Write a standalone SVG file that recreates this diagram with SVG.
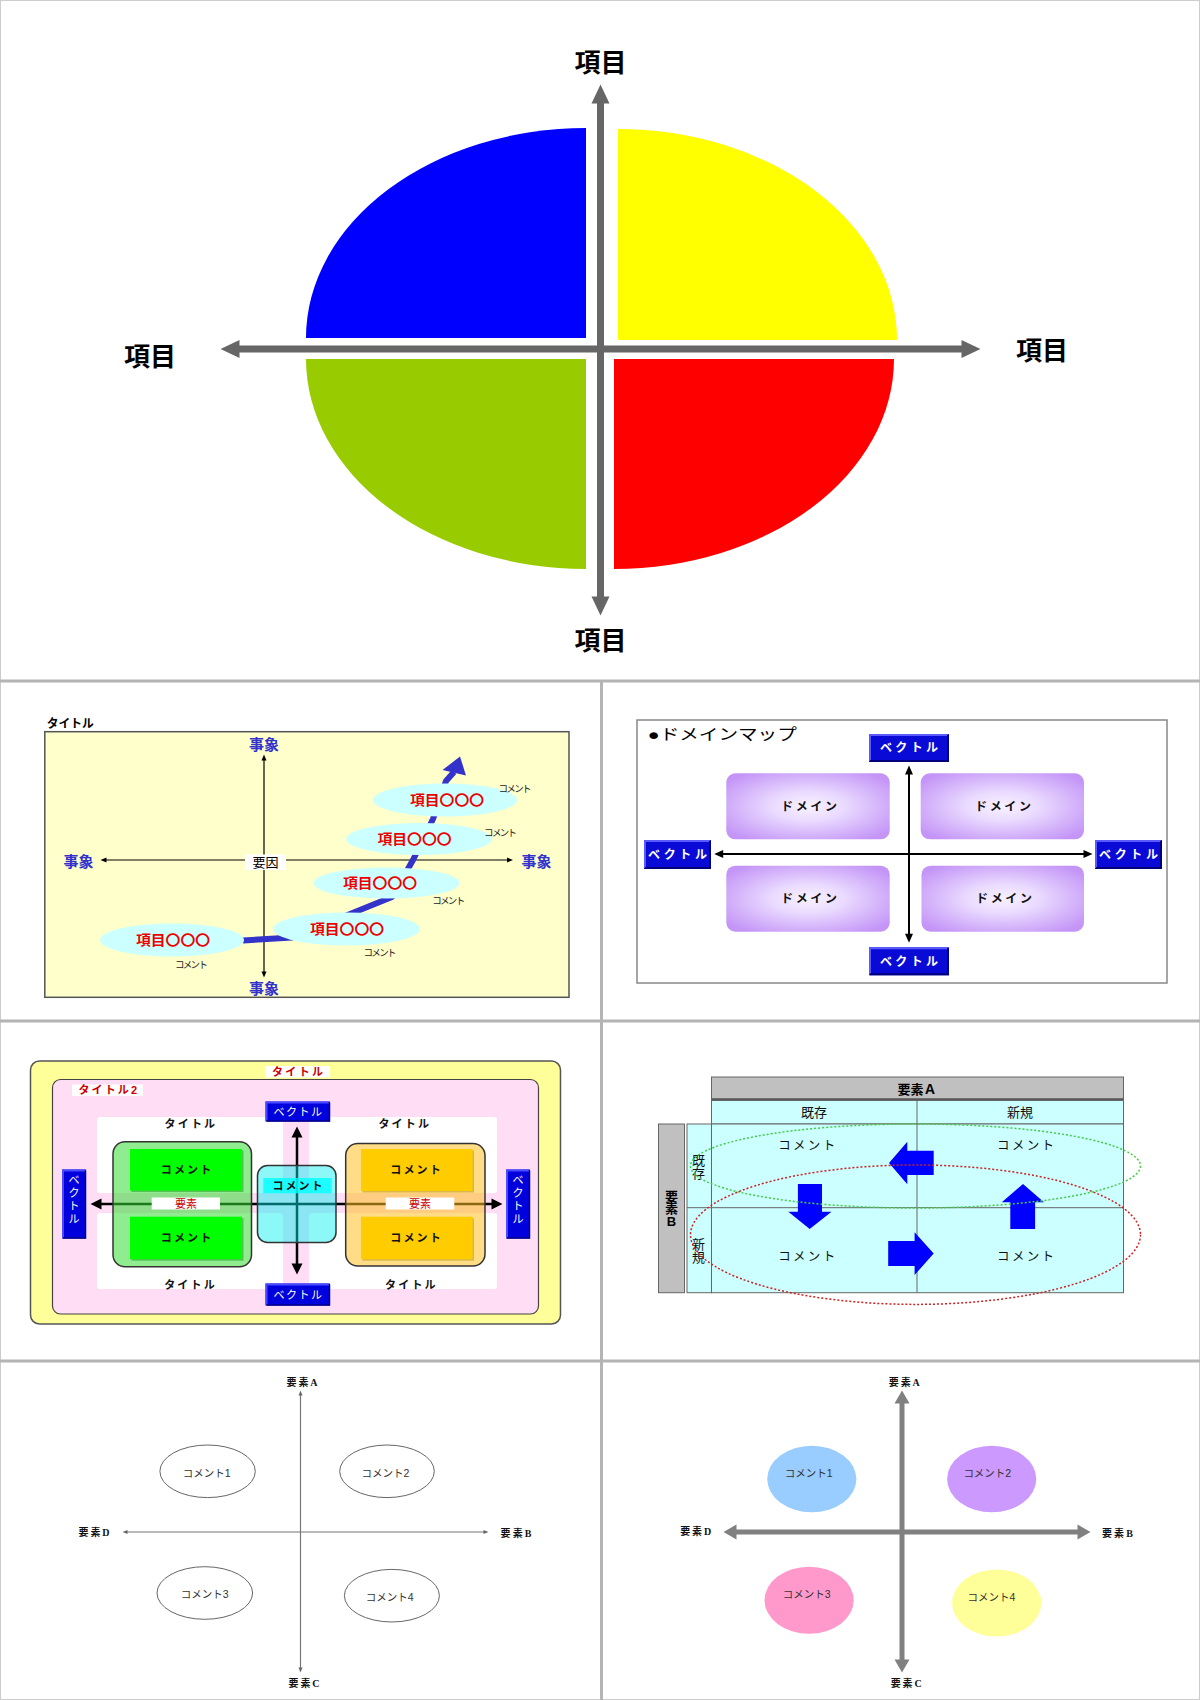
<svg xmlns="http://www.w3.org/2000/svg" width="1200" height="1700" viewBox="0 0 1200 1700">
<defs>
<style>
text{font-family:"Liberation Sans","Noto Sans CJK JP",sans-serif}
.jp{font-family:"Noto Sans CJK JP","Liberation Sans",sans-serif}
.sf{font-family:"Liberation Serif","Noto Sans CJK JP",serif;font-weight:bold;font-size:10px;fill:#111;text-anchor:middle}
.c{text-anchor:middle}
.b{font-weight:bold}
.div{stroke:#B4B4B4;stroke-width:3}
.big{font-size:26px;font-weight:bold;fill:#000;text-anchor:middle}
.jis{font-size:15px;font-weight:bold;fill:#3333CC;text-anchor:middle}
.kou{font-size:14px;font-weight:bold;fill:#EE0000;text-anchor:middle}
.cm9{font-size:9.5px;fill:#222;text-anchor:middle}
.e2{fill:#CCFFFF}
.dom{fill:url(#domg)}
.domt{font-size:12px;font-weight:bold;fill:#111;text-anchor:middle}
.vect{font-size:12px;font-weight:bold;fill:#fff;text-anchor:middle}
.v4t{font-size:11px;fill:#fff;text-anchor:middle}
.t4{font-size:11px;font-weight:bold;fill:#111;text-anchor:middle}
.r4{font-size:11px;font-weight:bold;fill:#CC0000}
.cell{fill:#CCFFFF;stroke:#666;stroke-width:1}
.gray{fill:#C0C0C0;stroke:#666;stroke-width:1}
.t5{font-size:13px;fill:#111;text-anchor:middle}
.cm5{font-size:12.5px;fill:#111;text-anchor:middle}
.barr{fill:#0000FF}
.cm6{font-size:10.5px;fill:#333;text-anchor:middle}
</style>
<radialGradient id="domg" cx="50%" cy="50%" r="62%">
<stop offset="0" stop-color="#F8F2FF"/>
<stop offset="0.35" stop-color="#EADBFF"/>
<stop offset="1" stop-color="#C495F7"/>
</radialGradient>
<marker id="m1" markerUnits="userSpaceOnUse" markerWidth="19" markerHeight="18" refX="0.5" refY="9" orient="auto-start-reverse" overflow="visible"><path d="M0,0 L19,9 L0,18 z" fill="#666"/></marker>
<marker id="m2" markerUnits="userSpaceOnUse" markerWidth="6" markerHeight="5" refX="0.5" refY="2.5" orient="auto-start-reverse" overflow="visible"><path d="M0,0 L6,2.5 L0,5 z" fill="#000"/></marker>
<marker id="m3" markerUnits="userSpaceOnUse" markerWidth="9" markerHeight="8" refX="0.5" refY="4" orient="auto-start-reverse" overflow="visible"><path d="M0,0 L9,4 L0,8 z" fill="#000"/></marker>
<marker id="m4" markerUnits="userSpaceOnUse" markerWidth="11" markerHeight="11" refX="0.5" refY="5.5" orient="auto-start-reverse" overflow="visible"><path d="M0,0 L11,5.5 L0,11 z" fill="#000"/></marker>
<marker id="m6" markerUnits="userSpaceOnUse" markerWidth="5" markerHeight="4" refX="0.5" refY="2" orient="auto-start-reverse" overflow="visible"><path d="M0,0 L5,2 L0,4 z" fill="#666"/></marker>
<marker id="m7" markerUnits="userSpaceOnUse" markerWidth="13" markerHeight="15" refX="0.5" refY="7.5" orient="auto-start-reverse" overflow="visible"><path d="M0,0 L13,7.5 L0,15 z" fill="#808080"/></marker>
</defs>

<rect x="0" y="0" width="1200" height="1700" fill="#fff"/>
<rect x="0.5" y="0.5" width="1199" height="1699" fill="none" stroke="#CCCCCC" stroke-width="1"/>

<!-- panel dividers -->
<g id="dividers">
<line class="div" x1="0" y1="681" x2="1200" y2="681"/>
<line class="div" x1="0" y1="1021" x2="1200" y2="1021"/>
<line class="div" x1="0" y1="1361" x2="1200" y2="1361"/>
<line class="div" x1="601.5" y1="682" x2="601.5" y2="1700"/>
</g>

<!-- ===== Panel 1 ===== -->
<g id="p1-q-blue"><path d="M586,338 L586,128 A280,210 0 0 0 306,338 Z" fill="#0000FF"/></g>
<g id="p1-q-yellow"><path d="M618,340 L618,129 A279,211 0 0 1 897,340 Z" fill="#FFFF00"/></g>
<g id="p1-q-green"><path d="M586,359 L306,359 A280,210 0 0 0 586,569 Z" fill="#99CC00"/></g>
<g id="p1-q-red"><path d="M614,359 L894,359 A280,210 0 0 1 614,569 Z" fill="#FF0000"/></g>
<g id="p1-connectors">
<line x1="600.5" y1="103" x2="600.5" y2="597" stroke="#666" stroke-width="7" marker-start="url(#m1)" marker-end="url(#m1)"/>
<line x1="239" y1="349" x2="962" y2="349" stroke="#666" stroke-width="7" marker-start="url(#m1)" marker-end="url(#m1)"/>
</g>
<g id="p1-labels">
<text class="big" x="600.5" y="71.5">項目</text>
<text class="big" x="600.5" y="650">項目</text>
<text class="big" x="150" y="365.5">項目</text>
<text class="big" x="1042" y="359.5">項目</text>
</g>

<!-- ===== Panel 2 ===== -->
<g id="p2-title"><text x="46.7" y="728" font-size="12" font-weight="bold" textLength="47" lengthAdjust="spacingAndGlyphs">タイトル</text></g>
<g id="p2-frame"><rect x="44.8" y="731.7" width="524.2" height="265.6" fill="#FFFFCC" stroke="#555" stroke-width="1.5"/></g>
<g id="p2-connectors">
<line x1="264" y1="760" x2="264" y2="972" stroke="#000" stroke-width="1.2" marker-start="url(#m2)" marker-end="url(#m2)"/>
<line x1="106" y1="860" x2="507.5" y2="860" stroke="#000" stroke-width="1.2" marker-start="url(#m2)" marker-end="url(#m2)"/>
<polyline points="243,940.5 292,937.5 392,897 413,860 433,819 446,781 454,772" fill="none" stroke="#3333CC" stroke-width="6" stroke-linejoin="round"/>
<polygon points="460,756.5 442.5,770 466,775.5" fill="#3333CC"/>
</g>
<g id="p2-center"><rect x="245" y="854.5" width="41" height="15.5" fill="#fff"/><text x="265.6" y="867" font-size="13" class="c">要因</text></g>
<g id="p2-axis-labels">
<text class="jis" x="264" y="749.5">事象</text>
<text class="jis" x="264" y="993.5">事象</text>
<text class="jis" x="78.5" y="867">事象</text>
<text class="jis" x="536.5" y="866.5">事象</text>
</g>
<g id="p2-item1"><ellipse class="e2" cx="445" cy="800" rx="72" ry="16.5"/><text class="kou jp" x="447" y="804.8" textLength="74" lengthAdjust="spacingAndGlyphs">項目〇〇〇</text><text class="cm9" x="515" y="791.8" textLength="33">コメント</text></g>
<g id="p2-item2"><ellipse class="e2" cx="419" cy="839" rx="73" ry="16"/><text class="kou jp" x="414.5" y="843.5" textLength="74" lengthAdjust="spacingAndGlyphs">項目〇〇〇</text><text class="cm9" x="500.6" y="836" textLength="33">コメント</text></g>
<g id="p2-item3"><ellipse class="e2" cx="386.5" cy="883" rx="73" ry="15.5"/><text class="kou jp" x="380" y="887.5" textLength="74" lengthAdjust="spacingAndGlyphs">項目〇〇〇</text><text class="cm9" x="448.7" y="903.8" textLength="33">コメント</text></g>
<g id="p2-item4"><ellipse class="e2" cx="346.5" cy="929" rx="73.5" ry="16.5"/><text class="kou jp" x="347" y="933.5" textLength="74" lengthAdjust="spacingAndGlyphs">項目〇〇〇</text><text class="cm9" x="380" y="956" textLength="33">コメント</text></g>
<g id="p2-item5"><ellipse class="e2" cx="172" cy="940" rx="72" ry="16.5"/><text class="kou jp" x="173" y="945" textLength="74" lengthAdjust="spacingAndGlyphs">項目〇〇〇</text><text class="cm9" x="191.4" y="967.5" textLength="33">コメント</text></g>

<!-- ===== Panel 3 ===== -->
<g id="p3-frame">
<rect x="637" y="720" width="530" height="263" fill="#fff" stroke="#888" stroke-width="1.5"/>
<text x="647.8" y="740" font-size="15.5" textLength="149" lengthAdjust="spacingAndGlyphs">●ドメインマップ</text>
</g>
<g id="p3-dom-tl"><rect class="dom" x="726.3" y="773.3" width="163.4" height="66" rx="9"/><text class="domt" x="809" y="810.5" textLength="56">ドメイン</text></g>
<g id="p3-dom-tr"><rect class="dom" x="920.7" y="773.3" width="163.3" height="66" rx="9"/><text class="domt" x="1003" y="810.5" textLength="56">ドメイン</text></g>
<g id="p3-dom-bl"><rect class="dom" x="726.3" y="865.7" width="163.4" height="66" rx="9"/><text class="domt" x="809" y="902.5" textLength="56">ドメイン</text></g>
<g id="p3-dom-br"><rect class="dom" x="921.5" y="865.7" width="162.5" height="66" rx="9"/><text class="domt" x="1004" y="902.5" textLength="56">ドメイン</text></g>
<g id="p3-connectors">
<line x1="909" y1="774" x2="909" y2="934.3" stroke="#000" stroke-width="2" marker-start="url(#m3)" marker-end="url(#m3)"/>
<line x1="722.7" y1="854" x2="1084" y2="854" stroke="#000" stroke-width="2" marker-start="url(#m3)" marker-end="url(#m3)"/>
</g>
<g id="p3-vec-top">
<rect x="869" y="734" width="80" height="28" fill="#0A0AD6"/>
<path d="M870,761 V735 H948" stroke="#5A5AFF" stroke-width="2" fill="none"/>
<path d="M870,761 H948 V735" stroke="#00007A" stroke-width="2" fill="none"/>
<text class="vect" x="909" y="752.3" textLength="58">ベクトル</text>
</g>
<g id="p3-vec-bottom">
<rect x="869" y="947.3" width="80" height="28" fill="#0A0AD6"/>
<path d="M870,974.3 V948.3 H948" stroke="#5A5AFF" stroke-width="2" fill="none"/>
<path d="M870,974.3 H948 V948.3" stroke="#00007A" stroke-width="2" fill="none"/>
<text class="vect" x="909" y="965.6" textLength="58">ベクトル</text>
</g>
<g id="p3-vec-left">
<rect x="644" y="840" width="67" height="29" fill="#0A0AD6"/>
<path d="M645,868 V841 H710" stroke="#5A5AFF" stroke-width="2" fill="none"/>
<path d="M645,868 H710 V841" stroke="#00007A" stroke-width="2" fill="none"/>
<text class="vect" x="677.5" y="859" textLength="59">ベクトル</text>
</g>
<g id="p3-vec-right">
<rect x="1095" y="840" width="67" height="29" fill="#0A0AD6"/>
<path d="M1096,868 V841 H1161" stroke="#5A5AFF" stroke-width="2" fill="none"/>
<path d="M1096,868 H1161 V841" stroke="#00007A" stroke-width="2" fill="none"/>
<text class="vect" x="1128.5" y="859" textLength="59">ベクトル</text>
</g>

<!-- ===== Panel 4 ===== -->
<g id="p4-outer">
<rect x="30.5" y="1061" width="530" height="263" rx="9" fill="#FFFF99" stroke="#555" stroke-width="1.5"/>
<rect x="265" y="1066" width="65" height="11.5" fill="#fff"/>
<text class="r4 c" x="297.5" y="1076" textLength="51">タイトル</text>
</g>
<g id="p4-inner">
<rect x="52.5" y="1079.5" width="486" height="234.5" rx="8" fill="#FFDDF5" stroke="#444" stroke-width="1.2"/>
<rect x="72" y="1084.5" width="71" height="11.5" fill="#fff"/>
<text class="r4" x="78.5" y="1094" textLength="58.5">タイトル2</text>
</g>
<g id="p4-areas">
<rect x="97" y="1117" width="186" height="76" rx="3" fill="#fff"/>
<rect x="309" y="1117" width="188" height="76" rx="3" fill="#fff"/>
<rect x="97" y="1213" width="186" height="76" rx="3" fill="#fff"/>
<rect x="309" y="1213" width="188" height="76" rx="3" fill="#fff"/>
<text class="t4" x="189.8" y="1127.5" textLength="50.5">タイトル</text>
<text class="t4" x="403.7" y="1127.5" textLength="50.5">タイトル</text>
<text class="t4" x="189.4" y="1288.5" textLength="50.5">タイトル</text>
<text class="t4" x="410.3" y="1288.5" textLength="50.5">タイトル</text>
</g>
<g id="p4-connectors">
<line x1="101" y1="1204" x2="492" y2="1204" stroke="#000" stroke-width="2.5" marker-start="url(#m4)" marker-end="url(#m4)"/>
<line x1="297" y1="1137" x2="297" y2="1264" stroke="#000" stroke-width="2.5" marker-start="url(#m4)" marker-end="url(#m4)"/>
</g>
<g id="p4-green">
<rect x="113" y="1141.7" width="138.5" height="125" rx="12" fill="#33DD33" fill-opacity="0.55" stroke="#333" stroke-width="1.5"/>
<rect x="131.5" y="1150.5" width="112" height="41.5" fill="#1A9A1A" opacity="0.5"/>
<rect x="130" y="1149" width="112" height="41.5" fill="#00FF00"/>
<rect x="131.5" y="1218.2" width="112" height="42.5" fill="#1A9A1A" opacity="0.5"/>
<rect x="130" y="1216.7" width="112" height="42.5" fill="#00FF00"/>
<text class="t4" x="186" y="1174" textLength="50.5">コメント</text>
<text class="t4" x="186" y="1242" textLength="50.5">コメント</text>
</g>
<g id="p4-orange">
<rect x="345.7" y="1143.5" width="139.3" height="122.5" rx="12" fill="#FFC020" fill-opacity="0.55" stroke="#333" stroke-width="1.5"/>
<rect x="362.5" y="1150.5" width="111.5" height="42" fill="#B08A00" opacity="0.45"/>
<rect x="361" y="1149" width="111.5" height="42" fill="#FFCC00"/>
<rect x="362.5" y="1218.2" width="111.5" height="42.5" fill="#B08A00" opacity="0.45"/>
<rect x="361" y="1216.7" width="111.5" height="42.5" fill="#FFCC00"/>
<text class="t4" x="415.5" y="1174" textLength="50.5">コメント</text>
<text class="t4" x="415.5" y="1242" textLength="50.5">コメント</text>
</g>
<g id="p4-center">
<rect x="257.5" y="1165.5" width="78.5" height="77" rx="10" fill="#00F0F0" fill-opacity="0.45" stroke="#333" stroke-width="1.5"/>
<rect x="263.3" y="1178" width="68.4" height="15.3" fill="#00FFFF" fill-opacity="0.8"/>
<text class="t4" x="297.5" y="1189.5" textLength="50">コメント</text>
</g>
<g id="p4-elem">
<rect x="151.7" y="1197.5" width="68.3" height="12" fill="#fff"/>
<text x="186" y="1207.5" font-size="11" fill="#CC0000" class="c" textLength="22">要素</text>
<rect x="385.7" y="1197.5" width="68.6" height="12" fill="#fff"/>
<text x="420" y="1207.5" font-size="11" fill="#CC0000" class="c" textLength="22">要素</text>
</g>
<g id="p4-vec-top">
<rect x="265.5" y="1101.5" width="64.5" height="20" fill="#0000DD"/>
<path d="M266.5,1121 V1102.5 H329" stroke="#4A4AFF" stroke-width="2" fill="none"/>
<path d="M266.5,1121 H329.5 V1102.5" stroke="#000088" stroke-width="1.5" fill="none"/>
<text class="v4t" x="297.7" y="1115.5" textLength="48.5">ベクトル</text>
</g>
<g id="p4-vec-bottom">
<rect x="265.5" y="1283.5" width="64.5" height="22" fill="#0000DD"/>
<path d="M266.5,1305 V1284.5 H329" stroke="#4A4AFF" stroke-width="2" fill="none"/>
<path d="M266.5,1305 H329.5 V1284.5" stroke="#000088" stroke-width="1.5" fill="none"/>
<text class="v4t" x="297.7" y="1298.5" textLength="48.5">ベクトル</text>
</g>
<g id="p4-vec-left">
<rect x="62" y="1169.5" width="24" height="69" fill="#0000DD"/>
<path d="M63,1238 V1170.5 H85.5" stroke="#4A4AFF" stroke-width="2" fill="none"/>
<path d="M63,1238 H85.5 V1170.5" stroke="#000088" stroke-width="1.5" fill="none"/>
<text class="v4t" x="74"><tspan x="74" y="1184">ベ</tspan><tspan x="74" y="1197">ク</tspan><tspan x="74" y="1210">ト</tspan><tspan x="74" y="1222.5">ル</tspan></text>
</g>
<g id="p4-vec-right">
<rect x="506" y="1169.5" width="24" height="69" fill="#0000DD"/>
<path d="M507,1238 V1170.5 H529.5" stroke="#4A4AFF" stroke-width="2" fill="none"/>
<path d="M507,1238 H529.5 V1170.5" stroke="#000088" stroke-width="1.5" fill="none"/>
<text class="v4t" x="518"><tspan x="518" y="1184">ベ</tspan><tspan x="518" y="1197">ク</tspan><tspan x="518" y="1210">ト</tspan><tspan x="518" y="1222.5">ル</tspan></text>
</g>

<!-- ===== Panel 5 ===== -->
<g id="p5-header">
<rect class="gray" x="711.5" y="1077" width="412" height="22.5"/>
<line x1="712" y1="1099" x2="1123" y2="1099" stroke="#555" stroke-width="1.5"/>
<text x="917" y="1094" font-size="13" font-weight="bold" class="c">要素Ａ</text>
</g>
<g id="p5-colheads">
<rect class="cell" x="711.5" y="1100.5" width="412" height="23.5"/>
<line x1="917" y1="1100.5" x2="917" y2="1124" stroke="#666"/>
<text class="t5" x="814" y="1117.3">既存</text>
<text class="t5" x="1020" y="1117.3">新規</text>
</g>
<g id="p5-rowhead">
<rect class="gray" x="658.5" y="1124" width="26" height="168.7"/>
<text x="671.5" font-size="13" font-weight="bold" class="c"><tspan x="671.5" y="1200.5">要</tspan><tspan x="671.5" y="1213">素</tspan><tspan x="671.5" y="1226">B</tspan></text>
<rect class="cell" x="687" y="1124" width="24.5" height="168.7"/>
<line x1="687" y1="1207.7" x2="711.5" y2="1207.7" stroke="#666"/>
<text class="t5"><tspan x="698.5" y="1164.5">既</tspan><tspan x="698.5" y="1177.5">存</tspan></text>
<text class="t5"><tspan x="698.5" y="1248.5">新</tspan><tspan x="698.5" y="1261.5">規</tspan></text>
</g>
<g id="p5-grid">
<rect class="cell" x="711.5" y="1124" width="412" height="168.7"/>
<line x1="917" y1="1124" x2="917" y2="1292.7" stroke="#666"/>
<line x1="711.5" y1="1207.7" x2="1123.5" y2="1207.7" stroke="#666"/>
<text class="cm5" x="806.7" y="1150" textLength="57">コメント</text>
<text class="cm5" x="1025.6" y="1150" textLength="57">コメント</text>
<text class="cm5" x="806.7" y="1260.5" textLength="57">コメント</text>
<text class="cm5" x="1025.6" y="1260.5" textLength="57">コメント</text>
</g>
<g id="p5-connectors">
<polygon class="barr" points="889,1163 907.3,1141.7 907.3,1150.7 933.7,1150.7 933.7,1175 907.3,1175 907.3,1184.3"/>
<polygon class="barr" points="797.9,1184 822,1184 822,1211.7 831.5,1211.7 809.7,1229 788.3,1211.7 797.9,1211.7"/>
<polygon class="barr" points="888.2,1241 914.6,1241 914.6,1232.3 933.7,1253.5 914.6,1275 914.6,1266 888.2,1266"/>
<polygon class="barr" points="1023,1184 1044,1202.3 1035.1,1202.3 1035.1,1229 1010.3,1229 1010.3,1202.3 1001.8,1202.3"/>
<ellipse cx="915.5" cy="1166" rx="225" ry="42" fill="none" stroke="#44CC44" stroke-width="1.5" stroke-dasharray="2 2"/>
<ellipse cx="915.5" cy="1234.7" rx="225" ry="69.7" fill="none" stroke="#CC2222" stroke-width="1.5" stroke-dasharray="2 2"/>
</g>

<!-- ===== Panel 6 ===== -->
<g id="p6-connectors">
<line x1="300.5" y1="1395" x2="300.5" y2="1668" stroke="#777" stroke-width="1.2" marker-start="url(#m6)" marker-end="url(#m6)"/>
<line x1="127" y1="1532" x2="484" y2="1532" stroke="#777" stroke-width="1.2" marker-start="url(#m6)" marker-end="url(#m6)"/>
</g>
<g id="p6-labels">
<text class="sf" x="302" y="1385.5" textLength="31">要素A</text>
<text class="sf" x="304" y="1687" textLength="31">要素C</text>
<text class="sf" x="94" y="1535.5" textLength="31">要素D</text>
<text class="sf" x="516" y="1536.5" textLength="31">要素B</text>
</g>
<g id="p6-c1"><ellipse cx="207.6" cy="1471.3" rx="47.7" ry="26.3" fill="#fff" stroke="#666"/><text class="cm6" x="206.7" y="1477">コメント1</text></g>
<g id="p6-c2"><ellipse cx="387" cy="1471.3" rx="47.3" ry="26.3" fill="#fff" stroke="#666"/><text class="cm6" x="385.4" y="1477">コメント2</text></g>
<g id="p6-c3"><ellipse cx="204.8" cy="1593" rx="47.8" ry="26.3" fill="#fff" stroke="#666"/><text class="cm6" x="204.7" y="1598">コメント3</text></g>
<g id="p6-c4"><ellipse cx="391.9" cy="1595.7" rx="47.5" ry="26.3" fill="#fff" stroke="#666"/><text class="cm6" x="389.6" y="1600.5">コメント4</text></g>

<!-- ===== Panel 7 ===== -->
<g id="p7-connectors">
<line x1="902" y1="1403" x2="902" y2="1660" stroke="#808080" stroke-width="5" marker-start="url(#m7)" marker-end="url(#m7)"/>
<line x1="736" y1="1532" x2="1078" y2="1532" stroke="#808080" stroke-width="5" marker-start="url(#m7)" marker-end="url(#m7)"/>
</g>
<g id="p7-labels">
<text class="sf" x="904.3" y="1385.5" textLength="31">要素A</text>
<text class="sf" x="906.2" y="1687" textLength="31">要素C</text>
<text class="sf" x="695.7" y="1535" textLength="31">要素D</text>
<text class="sf" x="1117.4" y="1536.5" textLength="31">要素B</text>
</g>
<g id="p7-c1"><ellipse cx="811.8" cy="1479" rx="44.6" ry="33.3" fill="#99CCFF"/><text class="cm6" x="808.6" y="1477">コメント1</text></g>
<g id="p7-c2"><ellipse cx="991.7" cy="1479" rx="44.6" ry="33.3" fill="#CC99FF"/><text class="cm6" x="987.3" y="1477">コメント2</text></g>
<g id="p7-c3"><ellipse cx="809.1" cy="1600.3" rx="44.6" ry="33.5" fill="#FF99CC"/><text class="cm6" x="806.7" y="1598">コメント3</text></g>
<g id="p7-c4"><ellipse cx="996.7" cy="1603" rx="44.6" ry="33.5" fill="#FFFF99"/><text class="cm6" x="991.5" y="1600.5">コメント4</text></g>
</svg>
